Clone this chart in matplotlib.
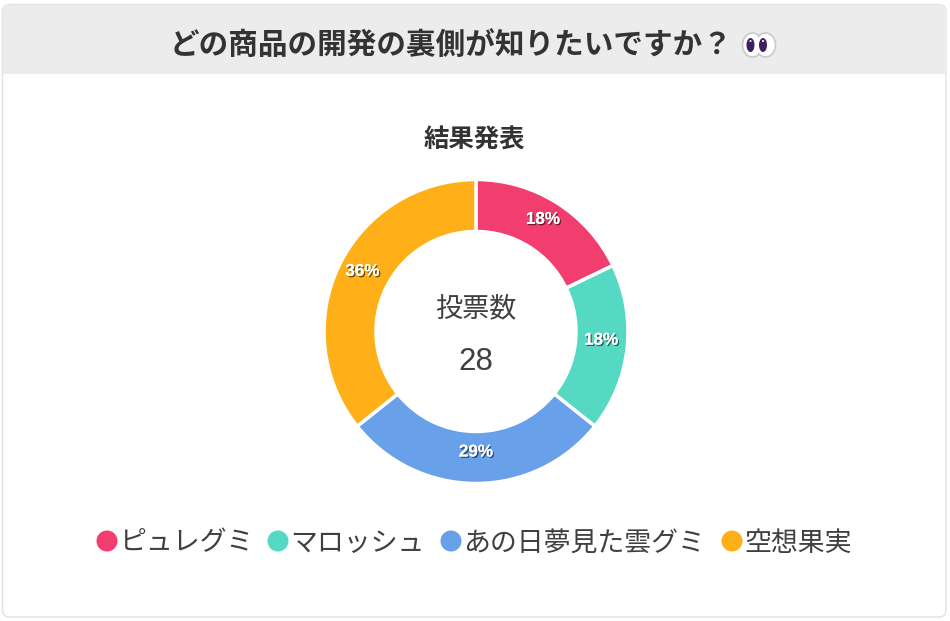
import matplotlib
matplotlib.use('Agg')
import matplotlib.pyplot as plt
import matplotlib.patheffects as pe
from matplotlib.patches import Circle, Ellipse, FancyBboxPatch, Rectangle

plt.rcParams['font.family'] = ['Noto Sans CJK JP', 'DejaVu Sans']

title = "どの商品の開発の裏側が知りたいですか？"
subtitle = "結果発表"
center_label = "投票数"
categories = ["ピュレグミ", "マロッシュ", "あの日夢見た雲グミ", "空想果実"]
votes = [5, 5, 8, 10]
colors = ["#f23d6f", "#56d9c3", "#69a0ea", "#ffb018"]

W, H = 950, 621
fig = plt.figure(figsize=(W / 100, H / 100), dpi=100, facecolor='white')

# background layer in pixel units, y going down
bg = fig.add_axes([0, 0, 1, 1])
bg.set_xlim(0, W)
bg.set_ylim(H, 0)
bg.axis('off')

card = FancyBboxPatch((2.5, 4.5), 943.5, 612.5, boxstyle="round,pad=0,rounding_size=7",
                      fc='white', ec='#dfe3e3', lw=1.0)
bg.add_patch(card)
header = Rectangle((2.5, 4.5), 943.5, 69.5, fc='#ececec', ec='none')
bg.add_patch(header)
header.set_clip_path(card)

bg.text(170, 45, title, fontsize=21.3, fontweight='bold', color='#333333',
        ha='left', va='center')

# the eyes at the end of the title
for ex, px in [(752.5, 750.5), (765.5, 763)]:
    bg.add_patch(Ellipse((ex, 45), 20, 24, fc='white', ec='#c9c9c9', lw=1.2))
for ex, px in [(752.5, 750.5), (765.5, 763)]:
    bg.add_patch(Ellipse((ex, 45), 17, 21, fc='white', ec='none'))
    bg.add_patch(Ellipse((px, 45), 8, 14, fc='#3f1f5c', ec='none'))
    bg.add_patch(Circle((px, 41), 1.0, fc='white', ec='none'))

bg.text(474.5, 140, subtitle, fontsize=18.3, fontweight='bold', color='#333333',
        ha='center', va='center')
bg.text(476, 309, center_label, fontsize=19.5, color='#404040', ha='center', va='center')
bg.text(476, 362, str(sum(votes)), fontsize=22.5, color='#404040', ha='center', va='center',
        family=['Liberation Sans'])

# doughnut
R = 152
size = 2.2 * R
ax = fig.add_axes([(476 - size / 2) / W, 1 - (331.5 + size / 2) / H, size / W, size / H])
wedges, _, pcts = ax.pie(votes, colors=colors, startangle=90, counterclock=False, radius=1,
                         wedgeprops=dict(width=52 / R, edgecolor='white', linewidth=2.5),
                         autopct='%.0f%%', pctdistance=126 / R)
ax.set_xlim(-1.1, 1.1)
ax.set_ylim(-1.1, 1.1)
for t in pcts:
    x, y = t.get_position()
    t.set_position((x, y + 5.5 / R))
    t.set(color='white', fontsize=12.3, fontweight='bold', family=['Liberation Sans'])
    t.set_path_effects([pe.withSimplePatchShadow(offset=(1, -1), shadow_rgbFace='black', alpha=0.55),
                        pe.Normal()])

# legend row
legend_x = [107, 278, 451, 732]
for x, name, c in zip(legend_x, categories, colors):
    bg.add_patch(Circle((x, 541), 10.5, fc=c, ec='none'))
    bg.text(x + 12, 543, name, fontsize=19.4, color='#404040', ha='left', va='center')

fig.savefig('out.png', dpi=100)
